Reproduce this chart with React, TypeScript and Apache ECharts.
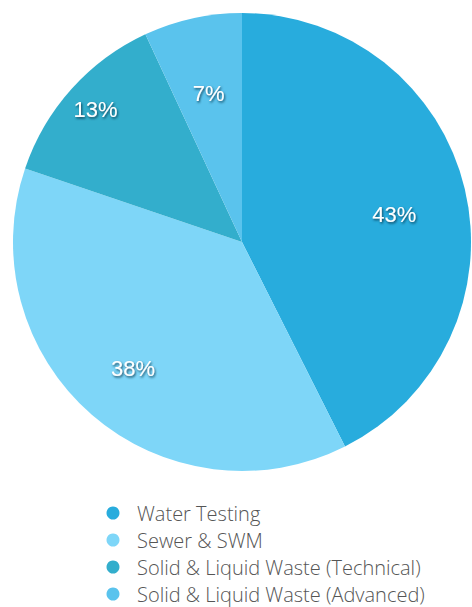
import React, { useEffect, useRef } from "react";
import * as echarts from "echarts";

const categories = [
  "Water Testing",
  "Sewer & SWM",
  "Solid & Liquid Waste (Technical)",
  "Solid & Liquid Waste (Advanced)",
];
const values = [43, 38, 13, 7];
const colors = ["#28ACDD", "#7ED6F8", "#33AECC", "#5AC3ED"];
// label nudges (px) from the default inside position
const labelShift = [
  [38, 0],
  [-32, 38],
  [-59, -54],
  [-8, -34],
];

export default function App() {
  const ref = useRef<HTMLDivElement>(null);
  useEffect(() => {
    if (!ref.current) return;
    const chart = echarts.init(ref.current, undefined, { renderer: "svg" });
    chart.setOption({
      animation: false,
      backgroundColor: "#ffffff",
      color: colors,
      legend: {
        orient: "vertical",
        left: 101.5,
        top: 498,
        height: 120,
        icon: "circle",
        itemWidth: 13,
        itemHeight: 13,
        itemGap: 7,
        selectedMode: false,
        textStyle: {
          fontFamily: "Open Sans",
          fontWeight: 300,
          fontSize: 20,
          color: "#555555",
          padding: [0, 0, 0, 12.5],
        },
        data: categories,
      },
      series: [
        {
          type: "pie",
          center: [242, 242],
          radius: 229,
          startAngle: 90,
          clockwise: true,
          silent: true,
          label: {
            position: "inside",
            formatter: "{c}%",
            color: "#ffffff",
            fontFamily: "Liberation Sans",
            fontSize: 22,
            textShadowColor: "rgba(10,50,70,0.85)",
            textShadowBlur: 2,
            textShadowOffsetX: 1,
            textShadowOffsetY: 1.5,
          },
          labelLine: { show: false },
          labelLayout: (p: any) => {
            const s = labelShift[p.dataIndex] || [0, 0];
            return { dx: s[0], dy: s[1] };
          },
          itemStyle: { borderWidth: 0 },
          data: categories.map((name, i) => ({ name, value: values[i] })),
        },
      ],
    });
    return () => chart.dispose();
  }, []);
  return (
    <div
      ref={ref}
      style={{ position: "fixed", left: 0, top: 0, width: 472, height: 607 }}
    />
  );
}
